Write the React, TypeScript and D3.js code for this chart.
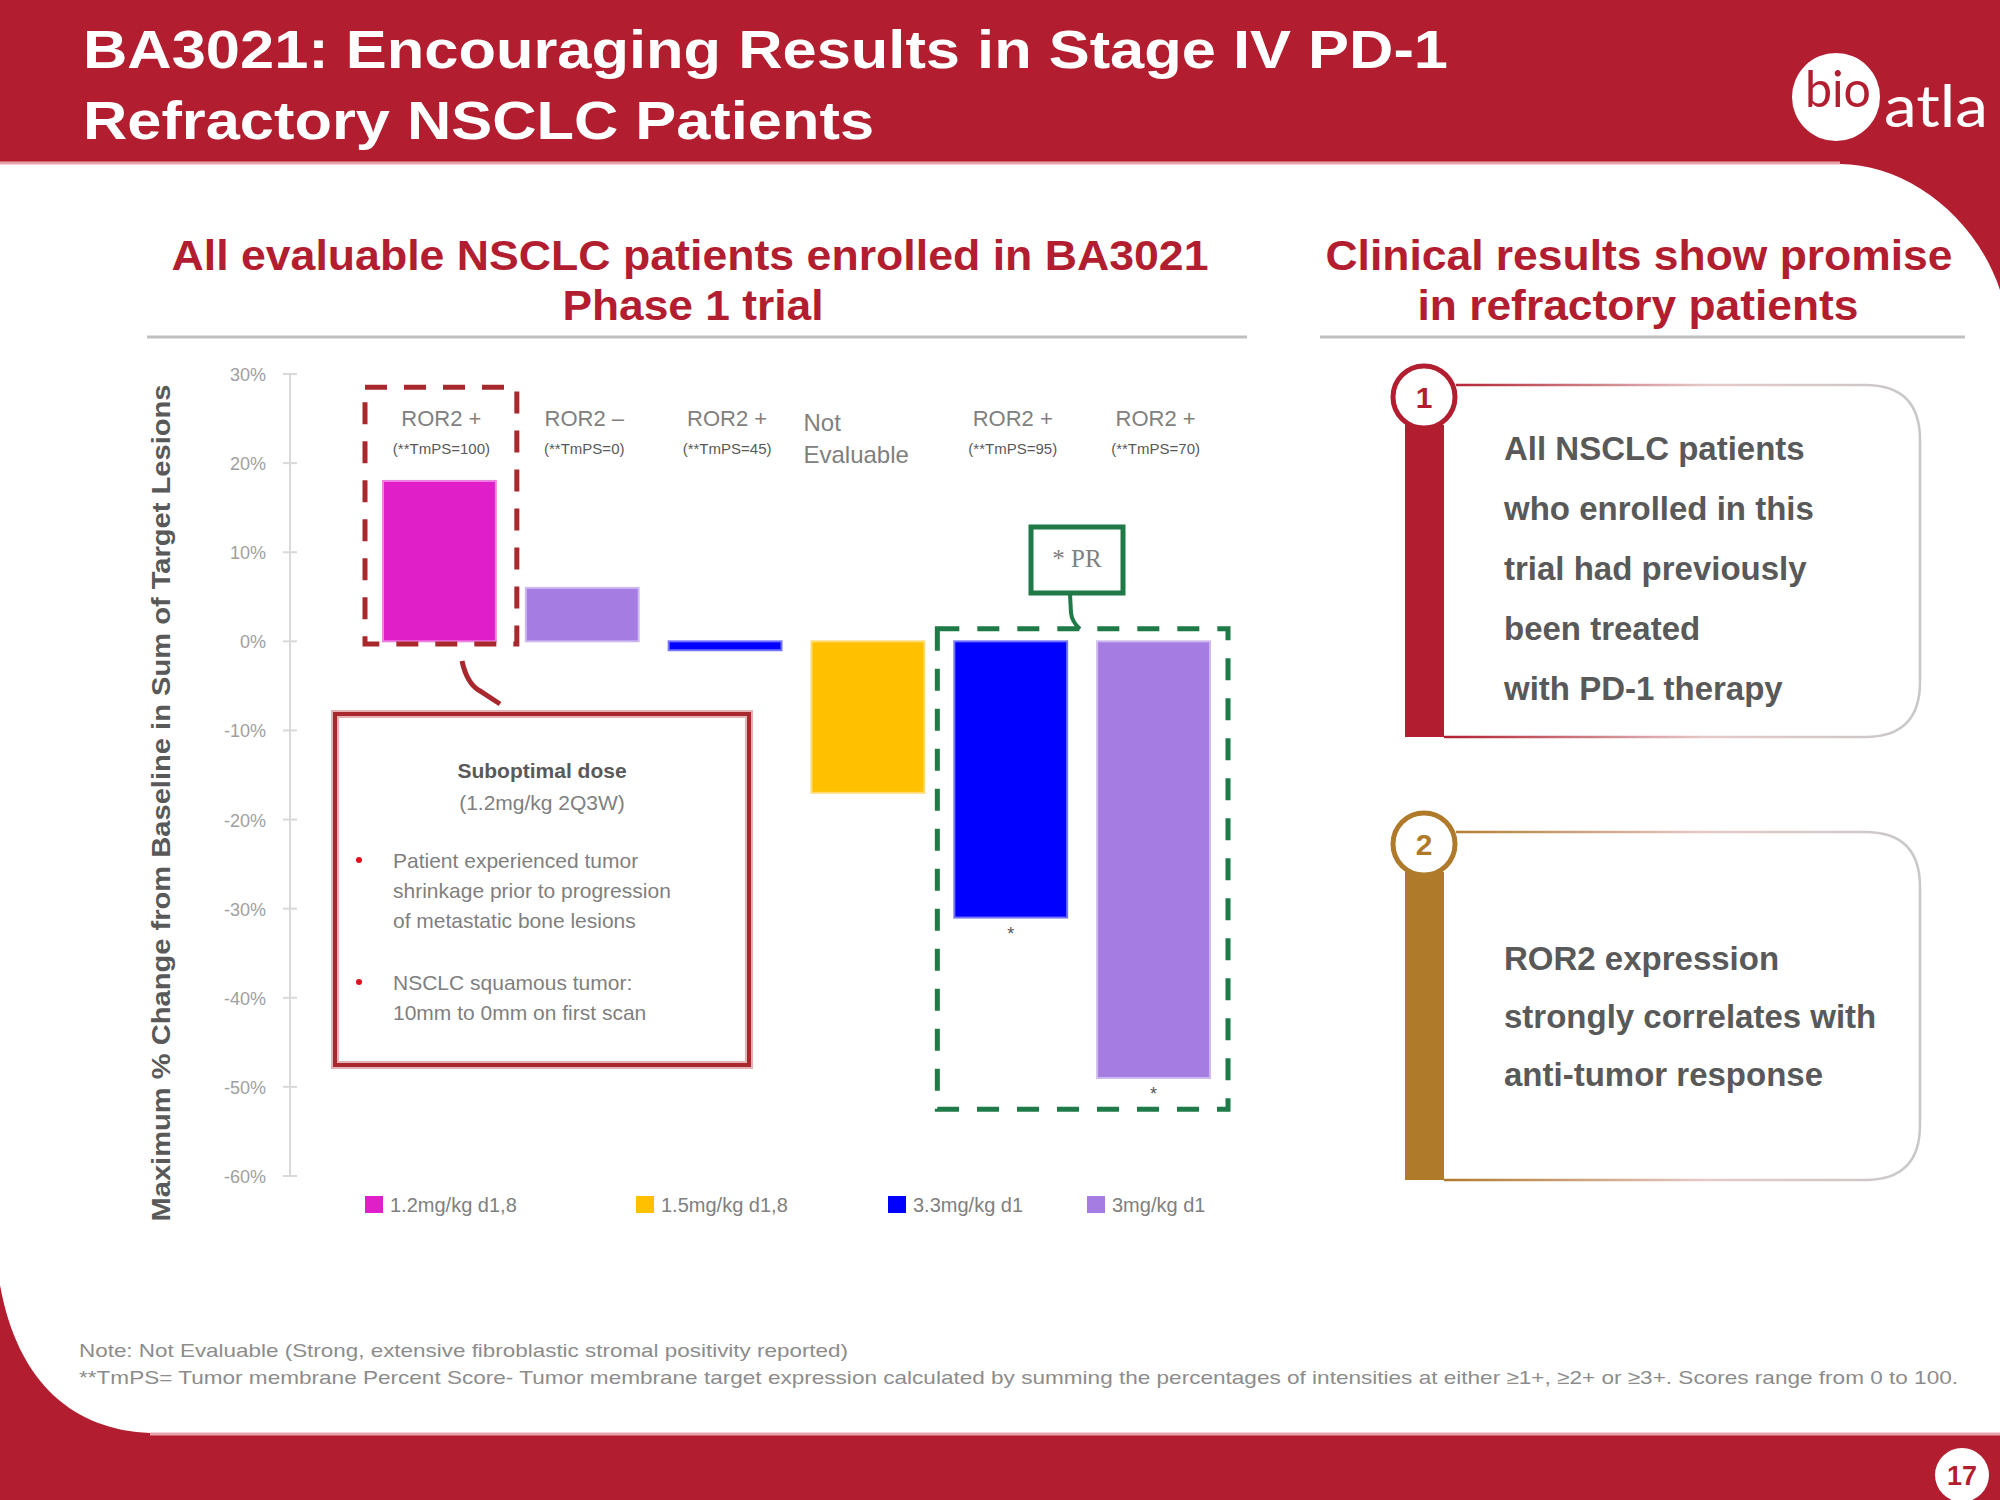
import * as d3 from 'd3'

// chart data
const barValues = [18, 6, -1, -17, -31, -49]
const barDose = [0, 3, 2, 1, 2, 3]
const barTopLabels = ['ROR2 +', 'ROR2 \u2013', 'ROR2 +', 'Not', 'ROR2 +', 'ROR2 +']
const barSubLabels = ['(**TmPS=100)', '(**TmPS=0)', '(**TmPS=45)', 'Evaluable', '(**TmPS=95)', '(**TmPS=70)']
const prMarked = [false, false, false, false, true, true]

const doseGroups = ['1.2mg/kg d1,8', '1.5mg/kg d1,8', '3.3mg/kg d1', '3mg/kg d1']
const doseColors = ['#e01fc8', '#ffc000', '#0000ff', '#a57de2']

const yTicks = [30, 20, 10, 0, -10, -20, -30, -40, -50, -60]

const calloutBullets = [
  ['Patient experienced tumor', 'shrinkage prior to progression', 'of metastatic bone lesions'],
  ['NSCLC squamous tumor:', '10mm to 0mm on first scan'],
]
const card1Lines = ['All NSCLC patients', 'who enrolled in this', 'trial had previously', 'been treated', 'with PD-1 therapy']
const card2Lines = ['ROR2 expression', 'strongly correlates with', 'anti-tumor response']

const RED = '#b21e2f'
const BROWN = '#b07a2b'
const SANS = "'Liberation Sans', Arial, Helvetica, sans-serif"
const legendX = [365, 636, 888, 1087]

function Card({ top, bottom, color, num, lines, gradId, textTop, lineGap }: {
  top: number; bottom: number; color: string; num: string; lines: string[]; gradId: string; textTop: number; lineGap: number
}) {
  const cx = 1424
  const cy = top + 12
  const right = 1920
  const r = 55
  const path = `M${cx + 32},${top} L${right - r},${top} Q${right},${top} ${right},${top + r} L${right},${bottom - r} Q${right},${bottom} ${right - r},${bottom} L1444,${bottom}`
  return (
    <g>
      <defs>
        <linearGradient id={gradId} x1="1444" x2="1920" y1="0" y2="0" gradientUnits="userSpaceOnUse">
          <stop offset="0" stopColor={color} />
          <stop offset="0.55" stopColor="#e6c9c9" />
          <stop offset="1" stopColor="#c8c8c8" />
        </linearGradient>
      </defs>
      <path d={path} fill="none" stroke={`url(#${gradId})`} strokeWidth={2.5} />
      <rect x={1405} y={cy + 28} width={39} height={bottom - cy - 28} fill={color} />
      <circle cx={cx} cy={cy} r={31} fill="#fff" stroke={color} strokeWidth={5} />
      <text x={cx} y={cy + 11} textAnchor="middle" fontFamily={SANS} fontWeight="bold" fontSize={30} fill={color}>{num}</text>
      {lines.map((l, i) => (
        <text key={i} x={1504} y={textTop + i * lineGap} fontFamily={SANS} fontWeight="bold" fontSize={33} fill="#595959">{l}</text>
      ))}
    </g>
  )
}

export default function App() {
  const x = d3.scaleBand<number>()
    .domain(d3.range(barValues.length))
    .range([368, 1225])
    .paddingInner(0.21)
    .paddingOuter(0.105)
  const y = d3.scaleLinear().domain([-60, 30]).range([1176, 374])
  const bw = x.bandwidth()
  const fmt = (v: number) => `${v}%`

  // annotation boxes placed relative to the bars
  const redBox = { x0: x(0)! - 18, x1: x(0)! + bw + 21, y0: y(28.5), y1: y(-0.3) }
  const greenBox = { x0: x(4)! - 17, x1: x(5)! + bw + 18, y0: y(1.4), y1: y(-52.5) }

  return (
    <svg width={2000} height={1500} style={{ position: 'absolute', left: 0, top: 0 }}>
      {/* slide background */}
      <rect width={2000} height={1500} fill={RED} />
      <path d="M0,164 L1840,164 C1905,164 1975,215 2000,290 L2000,1433 L150,1433 C75,1430 18,1385 0,1285 Z" fill="#fff" />
      <line x1={0} x2={1840} y1={163} y2={163} stroke="#e7a3aa" strokeWidth={3} />
      <line x1={150} x2={2000} y1={1434} y2={1434} stroke="#e7a3aa" strokeWidth={3} />

      {/* header */}
      <text x={83} y={68} fontFamily={SANS} fontWeight="bold" fontSize={53} fill="#fff" textLength={1365} lengthAdjust="spacingAndGlyphs">BA3021: Encouraging Results in Stage IV PD-1</text>
      <text x={83} y={139} fontFamily={SANS} fontWeight="bold" fontSize={53} fill="#fff" textLength={791} lengthAdjust="spacingAndGlyphs">Refractory NSCLC Patients</text>

      {/* logo */}
      <circle cx={1836} cy={97} r={44} fill="#fff" />
      <text x={1805} y={107} fontFamily="Lato, 'Open Sans', sans-serif" fontSize={50} fill={RED} textLength={66} lengthAdjust="spacingAndGlyphs">bio</text>
      <text x={1884} y={127} fontFamily="Lato, 'Open Sans', sans-serif" fontSize={58} fill="#fff" textLength={104} lengthAdjust="spacingAndGlyphs">atla</text>

      {/* page number */}
      <circle cx={1962} cy={1475} r={27} fill="#fff" />
      <text x={1962} y={1485} textAnchor="middle" fontFamily={SANS} fontWeight="bold" fontSize={27} fill={RED}>17</text>

      {/* section titles */}
      <text x={690} y={270} textAnchor="middle" fontFamily={SANS} fontWeight="bold" fontSize={43} fill={RED} textLength={1037} lengthAdjust="spacingAndGlyphs">All evaluable NSCLC patients enrolled in BA3021</text>
      <text x={693} y={320} textAnchor="middle" fontFamily={SANS} fontWeight="bold" fontSize={43} fill={RED} textLength={261} lengthAdjust="spacingAndGlyphs">Phase 1 trial</text>
      <line x1={147} x2={1247} y1={337} y2={337} stroke="#bfbfbf" strokeWidth={3} />

      <text x={1639} y={270} textAnchor="middle" fontFamily={SANS} fontWeight="bold" fontSize={43} fill={RED} textLength={627} lengthAdjust="spacingAndGlyphs">Clinical results show promise</text>
      <text x={1638} y={320} textAnchor="middle" fontFamily={SANS} fontWeight="bold" fontSize={43} fill={RED} textLength={441} lengthAdjust="spacingAndGlyphs">in refractory patients</text>
      <line x1={1320} x2={1965} y1={337} y2={337} stroke="#bfbfbf" strokeWidth={3} />

      {/* y axis */}
      <text transform={`translate(170,${(y(30) + y(-60)) / 2 + 28}) rotate(-90)`} textAnchor="middle" fontFamily={SANS} fontWeight="bold" fontSize={25} fill="#595959" textLength={837} lengthAdjust="spacingAndGlyphs">Maximum % Change from Baseline in Sum of Target Lesions</text>
      <line x1={290} x2={290} y1={y(30)} y2={y(-60)} stroke="#d9d9d9" strokeWidth={2} />
      {yTicks.map(t => (
        <g key={t}>
          <line x1={283} x2={297} y1={y(t)} y2={y(t)} stroke="#d9d9d9" strokeWidth={2} />
          <text x={266} y={y(t) + 7} textAnchor="end" fontFamily={SANS} fontSize={18} fill="#a0a0a0">{fmt(t)}</text>
        </g>
      ))}

      {/* bars */}
      {barValues.map((v, i) => {
        const c = doseColors[barDose[i]]
        return (
          <rect key={i} x={x(i)} y={y(Math.max(0, v))} width={bw} height={Math.abs(y(v) - y(0))}
            fill={c} stroke={d3.interpolateRgb(c, '#ffffff')(0.45)} strokeWidth={2} />
        )
      })}

      {/* bar labels */}
      {barTopLabels.map((l, i) => {
        const evalLabel = l === 'Not'
        const cx = x(i)! + bw / 2
        return evalLabel ? (
          <g key={i}>
            <text x={x(i)! - 8} y={431} fontFamily={SANS} fontSize={24} fill="#808080">{l}</text>
            <text x={x(i)! - 8} y={463} fontFamily={SANS} fontSize={24} fill="#808080">{barSubLabels[i]}</text>
          </g>
        ) : (
          <g key={i}>
            <text x={cx + 2} y={426} textAnchor="middle" fontFamily={SANS} fontSize={22} fill="#808080">{l}</text>
            <text x={cx + 2} y={454} textAnchor="middle" fontFamily={SANS} fontSize={15} fill="#595959">{barSubLabels[i]}</text>
          </g>
        )
      })}

      {/* PR asterisks */}
      {barValues.map((v, i) => prMarked[i] ? (
        <text key={i} x={x(i)! + bw / 2} y={y(v) + 22} textAnchor="middle" fontFamily={SANS} fontSize={18} fill="#595959">*</text>
      ) : null)}

      {/* red dashed highlight + callout */}
      <rect x={redBox.x0} y={redBox.y0} width={redBox.x1 - redBox.x0} height={redBox.y1 - redBox.y0}
        fill="none" stroke="#a8282d" strokeWidth={5} strokeDasharray="22 17" />
      <path d="M462,661 Q467,684 480,691 L500,704" fill="none" stroke="#a8282d" strokeWidth={5} />
      <rect x={335} y={714} width={414} height={351} fill="#fff" stroke="#e3b3b5" strokeWidth={8} />
      <rect x={335} y={714} width={414} height={351} fill="none" stroke="#a8282d" strokeWidth={4} />
      <text x={542} y={778} textAnchor="middle" fontFamily={SANS} fontWeight="bold" fontSize={21} fill="#595959">Suboptimal dose</text>
      <text x={542} y={810} textAnchor="middle" fontFamily={SANS} fontSize={21} fill="#7f7f7f">(1.2mg/kg 2Q3W)</text>
      {calloutBullets.map((lines, bi) => {
        const base = bi === 0 ? 868 : 990
        return (
          <g key={bi}>
            <circle cx={359} cy={base - 8} r={3} fill="#e0101e" />
            {lines.map((l, li) => (
              <text key={li} x={393} y={base + li * 30} fontFamily={SANS} fontSize={21} fill="#7f7f7f">{l}</text>
            ))}
          </g>
        )
      })}

      {/* green dashed PR highlight */}
      <rect x={greenBox.x0} y={greenBox.y0} width={greenBox.x1 - greenBox.x0} height={greenBox.y1 - greenBox.y0}
        fill="none" stroke="#1f7a48" strokeWidth={5} strokeDasharray="22 18" />
      <path d="M1070,594 L1071,613 Q1072,622 1080,629" fill="none" stroke="#1f7a48" strokeWidth={4} />
      <rect x={1031} y={527} width={92} height={66} fill="#fff" stroke="#1f7a48" strokeWidth={5} />
      <text x={1077} y={567} textAnchor="middle" fontFamily="'Liberation Serif', 'Times New Roman', serif" fontSize={25} fill="#808080">* PR</text>

      {/* legend */}
      {doseGroups.map((g, i) => (
        <g key={g}>
          <rect x={legendX[i]} y={1196} width={18} height={17} fill={doseColors[i]} />
          <text x={legendX[i] + 25} y={1212} fontFamily={SANS} fontSize={20} fill="#808080">{g}</text>
        </g>
      ))}

      {/* right cards */}
      <Card top={385} bottom={737} color={RED} num="1" lines={card1Lines} gradId="g1" textTop={460} lineGap={60} />
      <Card top={832} bottom={1180} color={BROWN} num="2" lines={card2Lines} gradId="g2" textTop={970} lineGap={58} />

      {/* footnotes */}
      <text x={79} y={1357} fontFamily={SANS} fontSize={19} fill="#8c8c8c" textLength={769} lengthAdjust="spacingAndGlyphs">Note: Not Evaluable (Strong, extensive fibroblastic stromal positivity reported)</text>
      <text x={79} y={1384} fontFamily={SANS} fontSize={19} fill="#8c8c8c" textLength={1879} lengthAdjust="spacingAndGlyphs">**TmPS= Tumor membrane Percent Score- Tumor membrane target expression calculated by summing the percentages of intensities at either ≥1+, ≥2+ or ≥3+. Scores range from 0 to 100.</text>
    </svg>
  )
}
